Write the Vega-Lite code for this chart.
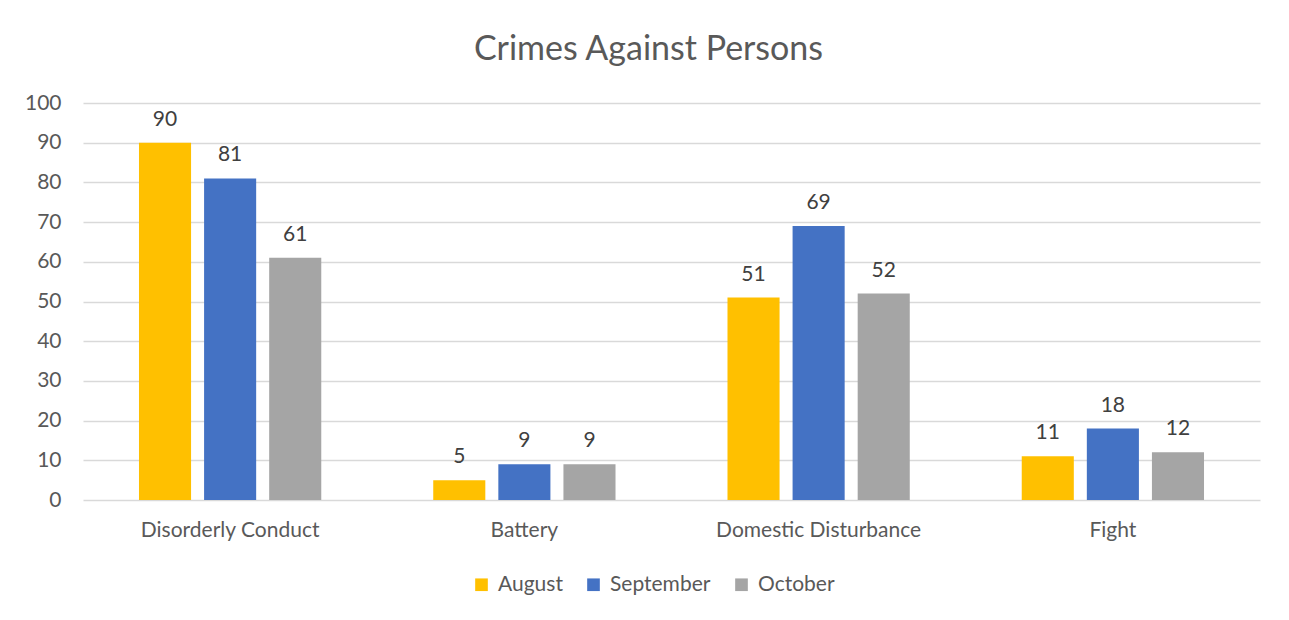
{
  "$schema": "https://vega.github.io/schema/vega-lite/v6.json",
  "autosize": {"type": "none"},
  "width": 1177,
  "height": 397,
  "padding": {"left": 83, "top": 103, "right": 29, "bottom": 120},
  "background": "white",
  "title": {
    "text": "Crimes Against Persons",
    "font": "Lato",
    "fontSize": 34,
    "fontWeight": "normal",
    "color": "#595959",
    "anchor": "middle",
    "dx": -23,
    "offset": 25
  },
  "data": {
    "values": [
      {"crime": "Disorderly Conduct", "month": "August", "count": 90},
      {"crime": "Disorderly Conduct", "month": "September", "count": 81},
      {"crime": "Disorderly Conduct", "month": "October", "count": 61},
      {"crime": "Battery", "month": "August", "count": 5},
      {"crime": "Battery", "month": "September", "count": 9},
      {"crime": "Battery", "month": "October", "count": 9},
      {"crime": "Domestic Disturbance", "month": "August", "count": 51},
      {"crime": "Domestic Disturbance", "month": "September", "count": 69},
      {"crime": "Domestic Disturbance", "month": "October", "count": 52},
      {"crime": "Fight", "month": "August", "count": 11},
      {"crime": "Fight", "month": "September", "count": 18},
      {"crime": "Fight", "month": "October", "count": 12}
    ]
  },
  "encoding": {
    "x": {
      "field": "crime",
      "type": "nominal",
      "sort": ["Disorderly Conduct", "Battery", "Domestic Disturbance", "Fight"],
      "scale": {"paddingInner": 0, "paddingOuter": 0},
      "axis": {
        "title": null,
        "labelAngle": 0,
        "labelFont": "Lato",
        "labelFontSize": 21,
        "labelColor": "#595959",
        "labelPadding": 19,
        "labelLimit": 0,
        "ticks": false,
        "domain": false,
        "grid": false
      }
    },
    "xOffset": {
      "field": "month",
      "type": "nominal",
      "sort": ["August", "September", "October"],
      "scale": {"paddingInner": 0.2, "paddingOuter": 0.86}
    },
    "y": {
      "field": "count",
      "type": "quantitative",
      "scale": {"domain": [0, 100]},
      "axis": {
        "title": null,
        "values": [0, 10, 20, 30, 40, 50, 60, 70, 80, 90, 100],
        "labelFont": "Lato",
        "labelFontSize": 21,
        "labelColor": "#595959",
        "labelPadding": 22,
        "ticks": false,
        "domain": false,
        "grid": true,
        "gridColor": "#D9D9D9",
        "gridWidth": 1.5
      }
    }
  },
  "layer": [
    {
      "mark": {"type": "bar"},
      "encoding": {
        "color": {
          "field": "month",
          "type": "nominal",
          "sort": ["August", "September", "October"],
          "scale": {
            "domain": ["August", "September", "October"],
            "range": ["#FFC000", "#4472C4", "#A5A5A5"]
          },
          "legend": {
            "title": null,
            "orient": "none",
            "direction": "horizontal",
            "legendX": 388,
            "legendY": 471,
            "symbolType": "square",
            "symbolSize": 160,
            "symbolStrokeWidth": 0,
            "labelFont": "Lato",
            "labelFontSize": 21,
            "labelColor": "#595959",
            "columnPadding": 20,
            "labelOffset": 6
          }
        }
      }
    },
    {
      "mark": {
        "type": "text",
        "baseline": "bottom",
        "dy": -13,
        "font": "Lato",
        "fontSize": 21,
        "color": "#404040"
      },
      "encoding": {
        "text": {"field": "count", "type": "quantitative"}
      }
    }
  ],
  "config": {
    "view": {"stroke": null}
  }
}
